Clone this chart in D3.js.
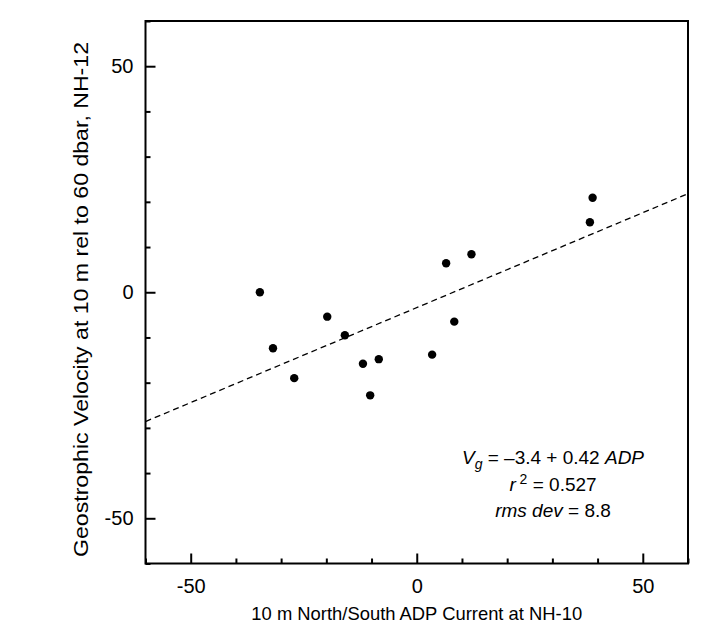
<!DOCTYPE html>
<html>
<head>
<meta charset="utf-8">
<script src="https://cdn.jsdelivr.net/npm/d3@7"></script>
<style>
  body { margin: 0; background: #fff; }
  text { font-family: Arial, "Liberation Sans", sans-serif; fill: #000; }
</style>
</head>
<body>
<div id="chart"></div>
<script>
// data
var adp = [-34.7, -31.8, -27.1, -19.8, -15.9, -11.9, -8.4, -10.3, 3.4, 8.3, 6.5, 12.1, 38.9, 38.3];
var vg  = [0.0, -12.4, -19.0, -5.4, -9.5, -15.8, -14.8, -22.8, -13.8, -6.5, 6.4, 8.4, 20.9, 15.5];
var fitIntercept = -3.4, fitSlope = 0.42;
var majorTicks = [-50, 0, 50];
var minorTicks = [-60, -40, -30, -20, -10, 10, 20, 30, 40, 60];

var width = 723, height = 629;
var margin = {top: 21, right: 35, bottom: 65.5, left: 145.5};

var svg = d3.select("#chart").append("svg")
  .attr("width", width)
  .attr("height", height);

var x = d3.scaleLinear().domain([-60, 60]).range([margin.left, width - margin.right]);
var y = d3.scaleLinear().domain([-60, 60]).range([height - margin.bottom, margin.top]);

var x0 = x(-60), x1 = x(60), y0 = y(-60), y1 = y(60);

// plain hyphen like the original, not the unicode minus
var fmt = function(d) { return String(d); };

// box
svg.append("rect")
  .attr("x", x0).attr("y", y1)
  .attr("width", x1 - x0).attr("height", y0 - y1)
  .style("fill", "none").style("stroke", "#000").style("stroke-width", 2);

// bottom axis ticks (inside)
var xAxis = svg.append("g").attr("transform", "translate(0," + y0 + ")");
xAxis.call(d3.axisBottom(x).tickValues(majorTicks).tickSize(-10).tickFormat(fmt));
xAxis.append("g").call(d3.axisBottom(x).tickValues(minorTicks).tickSize(-5).tickFormat(""));
xAxis.selectAll(".domain").remove();
xAxis.attr("font-size", 20).attr("font-family", "Arial, 'Liberation Sans', sans-serif");
xAxis.selectAll("line").style("stroke", "#000").style("stroke-width", 2);
xAxis.selectAll("text").attr("y", 15).style("font-size", "20px");

// left axis ticks (inside)
var yAxis = svg.append("g").attr("transform", "translate(" + x0 + ",0)");
yAxis.call(d3.axisLeft(y).tickValues(majorTicks).tickSize(-10).tickFormat(fmt));
yAxis.append("g").call(d3.axisLeft(y).tickValues(minorTicks).tickSize(-5).tickFormat(""));
yAxis.selectAll(".domain").remove();
yAxis.attr("font-size", 20).attr("font-family", "Arial, 'Liberation Sans', sans-serif");
yAxis.selectAll("line").style("stroke", "#000").style("stroke-width", 2);
yAxis.selectAll("text").attr("x", -12).style("font-size", "20px");

// regression line
svg.append("line")
  .attr("x1", x(-60)).attr("y1", y(fitIntercept + fitSlope * -60))
  .attr("x2", x(60)).attr("y2", y(fitIntercept + fitSlope * 60))
  .style("stroke", "#000").style("stroke-width", 1.3)
  .style("stroke-dasharray", "6,4");

// points
svg.selectAll("circle.dot")
  .data(adp.map(function(d, i) { return {x: d, y: vg[i]}; }))
  .enter().append("circle")
    .attr("class", "dot")
    .attr("cx", function(d) { return x(d.x); })
    .attr("cy", function(d) { return y(d.y); })
    .attr("r", 4.2)
    .style("fill", "#000");

// axis titles
svg.append("text")
  .attr("x", (x0 + x1) / 2).attr("y", 620)
  .attr("text-anchor", "middle")
  .style("font-size", "18.4px")
  .text("10 m North/South ADP Current at NH-10");

// the original y title is stretched along its length, runs nearly the full axis
svg.append("text")
  .attr("transform", "translate(88,299.5) rotate(-90)")
  .attr("x", -257.5)
  .attr("textLength", 515)
  .attr("lengthAdjust", "spacingAndGlyphs")
  .style("font-size", "20px")
  .text("Geostrophic Velocity at 10 m rel to 60 dbar, NH-12");

// fit annotation
var ann = svg.append("g").style("font-size", "19px");
var cx = 553;
var t1 = ann.append("text").attr("x", cx).attr("y", 464).attr("text-anchor", "middle");
t1.append("tspan").style("font-style", "italic").text("V");
t1.append("tspan").style("font-style", "italic").style("font-size", "14px").attr("dy", 5).text("g");
t1.append("tspan").attr("dy", -5).text(" = \u20133.4 + 0.42 ");
t1.append("tspan").style("font-style", "italic").text("ADP");

var t2 = ann.append("text").attr("x", cx).attr("y", 491).attr("text-anchor", "middle");
t2.append("tspan").style("font-style", "italic").text("r");
t2.append("tspan").style("font-size", "14px").attr("dy", -7).text(" 2");
t2.append("tspan").attr("dy", 7).text(" = 0.527");

var t3 = ann.append("text").attr("x", cx).attr("y", 517).attr("text-anchor", "middle");
t3.append("tspan").style("font-style", "italic").text("rms dev");
t3.append("tspan").text(" = 8.8");
</script>
</body>
</html>
